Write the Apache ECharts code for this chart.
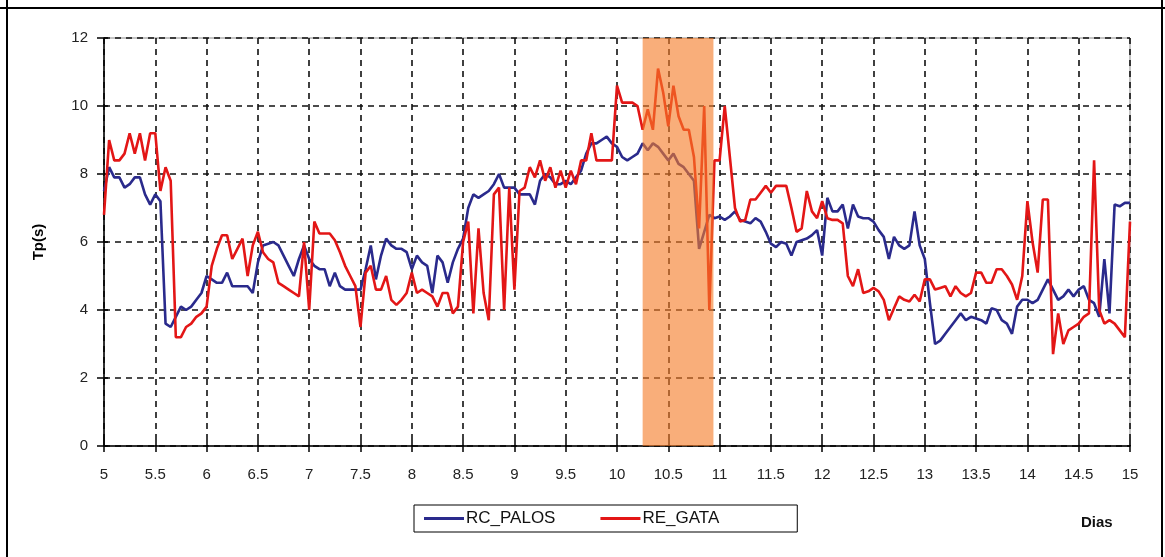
<!DOCTYPE html>
<html>
<head>
<meta charset="utf-8">
<script src="https://cdn.jsdelivr.net/npm/echarts@6/dist/echarts.min.js"></script>
<style>
  html, body { margin: 0; padding: 0; background: #fff; }
  #chart { width: 1165px; height: 557px; }
</style>
</head>
<body>
<div id="chart"></div>
<script>
// Peak period Tp (s) sampled every 0.05 day, from day 5 to day 15
const startDay = 5;
const stepDay = 0.05;

const seriesNames = ['RC_PALOS', 'RE_GATA'];

const palosTp = [
  7.5, 8.2, 7.9, 7.9, 7.6, 7.7, 7.9, 7.9, 7.4, 7.1, 7.4, 7.2, 3.6, 3.5, 3.8, 4.1, 4.0, 4.1, 4.3, 4.5,
  5.0, 4.9, 4.8, 4.8, 5.1, 4.7, 4.7, 4.7, 4.7, 4.5, 5.4, 5.9, 5.95, 6.0, 5.9, 5.6, 5.3, 5.0, 5.5, 5.9,
  5.5, 5.3, 5.2, 5.2, 4.7, 5.1, 4.7, 4.6, 4.6, 4.6, 4.6, 5.2, 5.9, 4.9, 5.6, 6.1, 5.9, 5.8, 5.8, 5.7,
  5.2, 5.6, 5.4, 5.3, 4.5, 5.6, 5.4, 4.8, 5.4, 5.8, 6.1, 7.0, 7.4, 7.3, 7.4, 7.5, 7.7, 8.0, 7.6, 7.6,
  7.6, 7.4, 7.4, 7.4, 7.1, 7.8, 8.0, 7.9, 7.7, 7.7, 7.8, 7.7, 7.9, 8.1, 8.6, 8.9, 8.9, 9.0, 9.1, 8.9,
  8.8, 8.5, 8.4, 8.5, 8.6, 8.9, 8.7, 8.9, 8.8, 8.6, 8.4, 8.6, 8.3, 8.2, 8.0, 7.8, 5.8, 6.3, 6.8, 6.7,
  6.75, 6.65, 6.75, 6.9, 6.65, 6.6, 6.55, 6.7, 6.6, 6.3, 5.95, 5.85, 6.0, 5.95, 5.6, 6.0, 6.05, 6.1, 6.2, 6.35,
  5.6, 7.3, 6.9, 6.9, 7.1, 6.4, 7.1, 6.75, 6.7, 6.7, 6.6, 6.35, 6.15, 5.5, 6.15, 5.9, 5.8, 5.9, 6.9, 5.9,
  5.5, 4.2, 3.0, 3.1, 3.3, 3.5, 3.7, 3.9, 3.7, 3.8, 3.75, 3.7, 3.6, 4.05, 4.0, 3.7, 3.6, 3.3, 4.1, 4.3,
  4.3, 4.2, 4.3, 4.6, 4.9, 4.6, 4.3, 4.4, 4.6, 4.4, 4.6, 4.7, 4.3, 4.2, 3.8, 5.5, 3.9, 7.1, 7.05, 7.15,
  7.15
];

const gataTp = [
  6.8, 9.0, 8.4, 8.4, 8.6, 9.2, 8.6, 9.2, 8.4, 9.2, 9.2, 7.5, 8.2, 7.8, 3.2, 3.2, 3.5, 3.6, 3.8, 3.9,
  4.1, 5.3, 5.8, 6.2, 6.2, 5.5, 5.8, 6.1, 5.0, 5.9, 6.3, 5.7, 5.5, 5.4, 4.8, 4.7, 4.6, 4.5, 4.4, 6.0,
  4.0, 6.6, 6.25, 6.25, 6.25, 6.05, 5.7, 5.3, 5.0, 4.7, 3.5, 5.1, 5.3, 4.6, 4.6, 5.0, 4.3, 4.15, 4.3, 4.5,
  5.1, 4.5, 4.6, 4.5, 4.4, 4.1, 4.5, 4.5, 3.9, 4.1, 6.0, 6.6, 3.9, 6.4, 4.5, 3.7, 7.4, 7.6, 4.0, 7.6,
  4.6, 7.5, 7.6, 8.2, 7.9, 8.4, 7.8, 8.2, 7.6, 8.1, 7.6, 8.1, 7.7, 8.4, 8.4, 9.2, 8.4, 8.4, 8.4, 8.4,
  10.6, 10.1, 10.1, 10.1, 10.0, 9.3, 9.9, 9.3, 11.1, 10.4, 9.4, 10.6, 9.7, 9.3, 9.3, 8.5, 6.4, 10.0, 4.0, 8.4,
  8.4, 10.0, 8.5, 7.0, 6.6, 6.65, 7.25, 7.25, 7.45, 7.65, 7.45, 7.65, 7.65, 7.65, 7.0, 6.3, 6.4, 7.5, 6.9, 6.7,
  7.2, 6.7, 6.65, 6.65, 6.55, 5.0, 4.7, 5.2, 4.5, 4.55, 4.65, 4.55, 4.3, 3.7, 4.05, 4.4, 4.3, 4.25, 4.45, 4.25,
  4.9, 4.9, 4.6, 4.65, 4.7, 4.4, 4.7, 4.5, 4.4, 4.5, 5.1, 5.1, 4.8, 4.8, 5.2, 5.2, 5.0, 4.75, 4.3, 5.0,
  7.2, 6.0, 5.1, 7.25, 7.25, 2.7, 3.9, 3.0, 3.4, 3.5, 3.6, 3.8, 3.9, 8.4, 4.0, 3.6, 3.7, 3.6, 3.4, 3.2,
  6.6
];

// Highlighted interval (days)
const highlightDays = [10.25, 10.94];

const toPairs = arr => arr.map((v, i) => [+(startDay + i * stepDay).toFixed(2), v]);

const FONT = "'Liberation Sans', Arial, sans-serif";
const Y_MIN = 0, Y_MAX = 12;

const chart = echarts.init(document.getElementById('chart'), null, { renderer: 'canvas' });

chart.setOption({
  animation: false,
  backgroundColor: '#ffffff',
  grid: {
    left: 104, right: 35, top: 38, bottom: 111,
    show: true, borderColor: '#8a8a8a', borderWidth: 1, backgroundColor: '#ffffff'
  },
  xAxis: [{
    type: 'value', min: 5, max: 15, interval: 0.5,
    axisLine: { show: true, onZero: false, lineStyle: { color: '#000', width: 1.5 } },
    axisTick: { show: true, length: 6, lineStyle: { color: '#000', width: 1.5 } },
    axisLabel: { color: '#222', fontSize: 15, fontFamily: FONT, margin: 21 },
    splitLine: { show: true, lineStyle: { color: '#111', width: 1.6, type: [6, 5] } }
  }, {
    type: 'value', min: 5, max: 15, interval: 0.5, position: 'bottom',
    axisLine: { show: false },
    axisTick: { show: true, inside: true, length: 6, lineStyle: { color: '#000', width: 1.5 } },
    axisLabel: { show: false },
    splitLine: { show: false }
  }],
  yAxis: [{
    type: 'value', min: Y_MIN, max: Y_MAX, interval: 2,
    name: 'Tp(s)', nameLocation: 'middle', nameGap: 58, nameRotate: 90,
    nameTextStyle: { color: '#000', fontSize: 15, fontWeight: 'bold', fontFamily: FONT },
    axisLine: { show: true, lineStyle: { color: '#000', width: 1.5 } },
    axisTick: { show: true, length: 7, lineStyle: { color: '#000', width: 1.5 } },
    axisLabel: { color: '#222', fontSize: 15, fontFamily: FONT, margin: 16 },
    splitLine: { show: true, lineStyle: { color: '#111', width: 1.6, type: [6, 5] } }
  }, {
    type: 'value', min: Y_MIN, max: Y_MAX, interval: 2, position: 'left',
    axisLine: { show: false },
    axisTick: { show: true, inside: true, length: 4, lineStyle: { color: '#000', width: 1.5 } },
    axisLabel: { show: false },
    splitLine: { show: false }
  }],
  legend: {
    data: seriesNames,
    left: 414, top: 505,
    icon: 'rect', itemWidth: 40, itemHeight: 3, itemGap: 45,
    borderColor: '#000', borderWidth: 1, padding: [5, 78, 5, 10],
    textStyle: { color: '#111', fontSize: 17, fontFamily: FONT, padding: [0, 0, 0, -3] }
  },
  series: [{
    name: seriesNames[0], type: 'line', data: toPairs(palosTp),
    symbol: 'none', z: 2,
    lineStyle: { color: '#2a2a8c', width: 2.6 }, itemStyle: { color: '#2a2a8c' }
  }, {
    name: seriesNames[1], type: 'line', data: toPairs(gataTp),
    symbol: 'none', z: 3,
    lineStyle: { color: '#e31616', width: 2.6 }, itemStyle: { color: '#e31616' }
  }, {
    // translucent highlight band laid over both curves
    name: 'band', type: 'custom', z: 10, silent: true,
    data: [highlightDays],
    renderItem: (params, api) => {
      const p0 = api.coord([api.value(0), Y_MAX]);
      const p1 = api.coord([api.value(1), Y_MIN]);
      return {
        type: 'rect',
        shape: { x: p0[0], y: p0[1], width: p1[0] - p0[0], height: p1[1] - p0[1] },
        style: { fill: 'rgba(245,125,40,0.62)' }
      };
    }
  }],
  graphic: [
    { type: 'line', shape: { x1: 0, y1: 8, x2: 1165, y2: 8 }, style: { stroke: '#000', lineWidth: 2 } },
    { type: 'line', shape: { x1: 7, y1: 0, x2: 7, y2: 557 }, style: { stroke: '#000', lineWidth: 2 } },
    { type: 'line', shape: { x1: 1162, y1: 0, x2: 1162, y2: 557 }, style: { stroke: '#000', lineWidth: 2 } },
    { type: 'text', left: 1081, top: 515,
      style: { text: 'Dias', fill: '#111', font: "bold 15px 'Liberation Sans', Arial, sans-serif" } }
  ]
});
</script>
</body>
</html>
